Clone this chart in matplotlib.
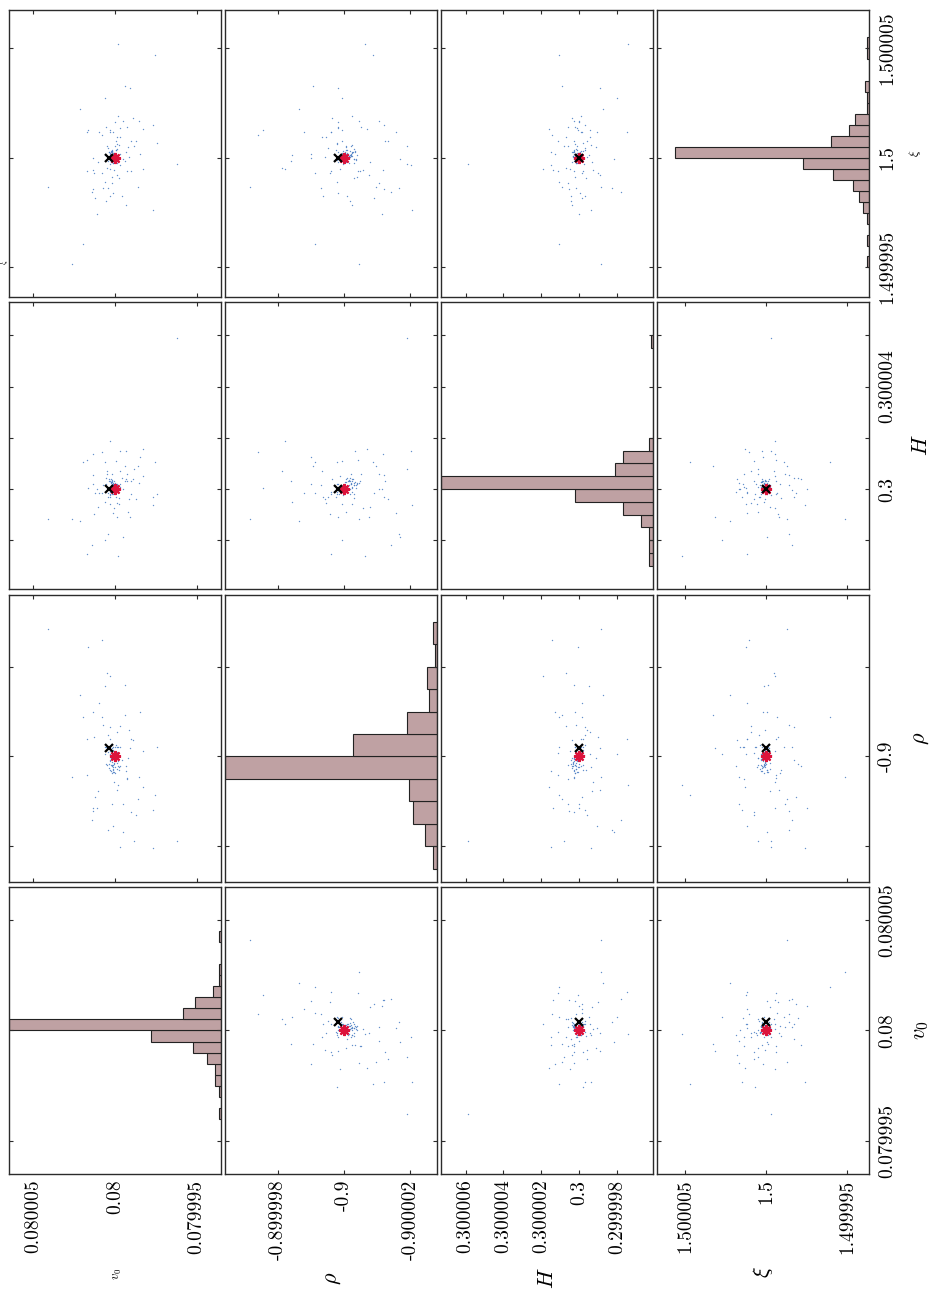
import numpy as np
import matplotlib
matplotlib.use("Agg")
import matplotlib.pyplot as plt
from matplotlib.ticker import NullLocator

plt.rcParams["mathtext.fontset"] = "cm"
plt.rcParams["axes.unicode_minus"] = False

# ---------------------------------------------------------------- data
param_labels = [r"$v_0$", r"$\rho$", r"$H$", r"$\xi$"]
true_values = [0.08, -0.9, 0.3, 1.5]
estimates = [0.08000037, -0.89999981, 0.3, 1.5]
UNIT = 1e-7  # deviations below are given in units of 1e-7

# posterior samples: deviation from the true value (x 1e-7)
v0_dev = [-2.0, -4.7, -7.1, -11.2, -14.8, -23.4, -16.9, 17.3, 16.3, 9.8,
          7.7, 3.0, 5.5, 1.0, -1.0, -3.0, -0.6, -9.6, -12.8, -25.8,
          5.1, 4.1, 0.2, -2.2, -11.8, -15.2, -6.7, -8.7, -5.1, 13.2,
          10.6, 13.6, 16.9, 12.8, 8.1, 5.1, 3.0, 0.6, -2.6, -7.1,
          -9.6, -17.3, 6.3, 1.8, 7.5, 13.6, 14.2, 12.0, 1.4, 5.5,
          -14.4, -6.7, 11.2, -23.4, -37.8, 41.1, 19.5, 26.4, 21.3, 6.1,
          -6.3, -9.1, -1.6, -24.4, -3.0, 4.0, -1.0, 2.0, -4.0, 3.0,
          -2.0, 1.0, 6.0, -6.0, 2.0, -1.0, 3.0, -3.0, 0.0, -8.0,
          1, 2, 0.5, 3, 1.5, -1, 2.5, 0.8, 3.5, 1.2,
          -0.5, 2, 4, 1, 0.3, 2.8, -2, 1.7, 3.2, 0.6,
          2.2, -1.5, 1.1, 3.8, 0.9, 2.6, -0.8, 1.4, 3, 0.4,
          2.1, -3, 1.8, 2.9, 0.7, 3.6, 1.3, -1.2, 2.4, 0.2]
rho_dev = [-2.2, -10.6, -5.1, 3.7, -4.6, -11.9, -6.9, 4.0, 24.4, 12.0,
           26.0, 0.6, 2.0, -15.6, 5.4, 6.8, 0.7, -12.3, -13.1, 2.2,
           -2.0, 4.8, -0.4, -2.3, -18.8, 10.0, -3.3, 5.8, -16.8, 9.9,
           -7.8, -11.6, -4.2, 4.4, 8.7, 18.7, 18.0, -5.6, -3.0, -4.8,
           4.0, 1.2, 2.2, -10.5, 7.0, -12.1, -14.1, -9.0, 2.0, -1.7,
           -9.5, -2.2, -11.5, -20.5, -18.8, 28.4, 8.9, -4.6, 13.7, 0.6,
           9.3, 1.9, -6.3, -8.6, -20.3, -16.5, -7.4, -3.7, -0.8, 6.5,
           2.2, 0.2, 15.7, 16.0, -1.8, 2.2, 4.0, 2.0, 2.0, -0.4,
           -2, 0.5, -3.5, -1, 1.5, -2.8, -0.4, -1.7, 2, -3,
           -0.9, -1.3, 1, -2.4, -3.8, 0.3, -1.1, -2.2, 1.2, -0.6,
           -3.2, -1.5, 0.8, -2.6, -0.2, -1.9, 2.5, -3.4, -0.7, -1.4,
           1.8, -2.1, -0.5, -3, 0.6, -1.6, -2.9, 1.1, -0.3, -2.3]
H_dev = [-1.2, 0.0, 5.9, 4.0, 2.5, -3.0, 15.8, -25.4, 0.5, -1.7,
         14.4, -5.8, 2.0, -9.3, -5.6, 7.0, 11.1, 3.0, -4.0, -2.0,
         6.0, -3.0, 1.0, -6.0, 8.0, 12.6, 14.9, -4.0, -18.6, 2.0,
         -7.0, 13.7, 11.4, -9.8, -1.7, 7.0, 18.9, -7.4, -3.5, 3.0,
         -2.0, 5.0, 10.5, 5.8, 1.7, 5.6, -21.9, -1.7, -0.5, 4.4,
         9.1, 4.0, 0.0, -6.1, 59.0, -11.7, 10.4, -11.7, -12.6, -19.8,
         8.9, -10.9, -26.0, 10.4, 14.9, -17.5, -11.0, 2.0, 4.4, -3.0,
         -1.0, 1.0, -5.0, 3.0, -2.0, 2.0, -1.0, 1.0, 0.0, -9.0,
         2, -1, 0.5, 3, -2, 1.5, 4, 0.2, -0.5, 2.5,
         1, 3.5, -1.5, 0.8, 2.2, -2.5, 1.2, 3.2, 0.4, -0.8,
         2.8, 1.6, -1.2, 3.8, 0.6, 2.4, -3, 1.4, 0.1, 3.1,
         -0.3, 1.9, 2.6, -1.8, 0.9, 3.3, 1.7, -0.6, 2.9, 0.3]
xi_dev = [18.9, 17.0, 14.0, 18.1, 17.0, 15.1, 13.1, 12.0, 12.5, 12.0,
          10.5, 12.8, 14.3, 11.7, 9.7, 9.4, 7.5, 7.8, 7.8, 7.0,
          5.2, 4.4, 5.2, 5.9, 5.2, 1.8, 2.7, 0.6, -0.6, -0.2,
          -2.1, -5.5, -6.2, -7.0, -6.7, -4.7, -5.2, -5.5, -9.3, -5.8,
          -5.8, -5.2, -11.1, -11.6, -13.9, -14.3, -15.8, -18.4, -16.1, -19.9,
          -13.1, -21.5, -25.4, -23.9, -2.7, -13.1, -39.3, -48.6, 22.2, 27.2,
          32.7, 31.8, 52.2, 46.9, -3.2, -13.8, -7.8, -8.5, -17.2, -17.4,
          -0.9, -2.4, 1.4, -1.2, 3.3, 6.4, 11.9, 13.6, 16.3, 4.9,
          1, 3, -1, 2, 0.5, 4, -2, 1.5, 2.5, -0.5,
          3.5, 0.8, -1.5, 2.2, 1.2, -3, 0.3, 2.8, -0.8, 1.8,
          3.2, -2.5, 0.6, 2.6, -1.2, 1.1, 3.8, -0.3, 2.1, 0.9,
          -1.8, 1.6, 3.4, -0.6, 2.4, 0.2, -2.2, 1.4, 2.9, 0.7]

# marginal histograms: first bin edge (x 1e-7), bin width 5e-7, counts
v0_bin_start, v0_counts = -40, [1, 0, 1, 3, 3, 7, 14, 35, 106, 19, 13, 4, 1, 1, 0, 0, 1]
rho_bin_start, rho_counts = -25, [2, 6, 12, 14, 106, 42, 15, 4, 5, 1, 2]
H_bin_start, H_counts = -30, [2, 2, 2, 6, 15, 39, 106, 19, 15, 2, 0, 0, 0, 0, 0, 0, 0, 1]
xi_bin_start, xi_counts = -50, [1, 0, 1, 0, 1, 3, 5, 8, 18, 33, 97, 19, 10, 7, 1, 1, 2, 0, 0, 1, 1]
BIN_WIDTH = 5

# tick values / labels per parameter
v0_ticks, v0_ticklabels = [0.079995, 0.08, 0.080005], ["0.079995", "0.08", "0.080005"]
rho_ticks, rho_ticklabels = [-0.900002, -0.9, -0.899998], ["-0.900002", "-0.9", "-0.899998"]
H_ticks, H_ticklabels = ([0.299998, 0.3, 0.300002, 0.300004, 0.300006],
                         ["0.299998", "0.3", "0.300002", "0.300004", "0.300006"])
xi_ticks, xi_ticklabels = [1.499995, 1.5, 1.500005], ["1.499995", "1.5", "1.500005"]

# labels printed along the right-hand column (thinned where crowded)
v0_right_labels = ["0.079995", "0.08", "0.080005"]
rho_right_labels = ["", "-0.9", ""]
H_right_labels = ["", "0.3", "", "0.300004", ""]
xi_right_labels = ["1.499995", "1.5", "1.500005"]

# axis ranges (x 1e-7 around the true value)
v0_range, rho_range, H_range, xi_range = (-65, 65), (-28, 36), (-39, 73), (-63.5, 67.5)

# ---------------------------------------------------------------- assemble
devs = [v0_dev, rho_dev, H_dev, xi_dev]
samples = [t + UNIT * np.asarray(d) for t, d in zip(true_values, devs)]
bin_starts = [v0_bin_start, rho_bin_start, H_bin_start, xi_bin_start]
counts = [v0_counts, rho_counts, H_counts, xi_counts]
ticks = [v0_ticks, rho_ticks, H_ticks, xi_ticks]
ticklabels = [v0_ticklabels, rho_ticklabels, H_ticklabels, xi_ticklabels]
right_labels = [v0_right_labels, rho_right_labels, H_right_labels, xi_right_labels]
ranges = [v0_range, rho_range, H_range, xi_range]
limits = [(t + UNIT * lo, t + UNIT * hi) for t, (lo, hi) in zip(true_values, ranges)]
count_max = max(max(c) for c in counts)

BAR_FACE = "#bfa1a3"
BAR_EDGE = "#222222"
DOT = "#4a7dc4"
STAR = "#dc143c"
SPINE = "#2b2b2b"
TICK_FONT = dict(family="cmr10", size=14)

FW, FH = 934, 1298
fig = plt.figure(figsize=(FW / 100, FH / 100), dpi=100)

col_left = [9, 225, 441, 657]
row_top = [887, 595, 302, 10]      # row index counted from the bottom
PW, PH = 212, 287


def panel_rect(c, r):
    return [col_left[c] / FW, 1 - (row_top[r] + PH) / FH, PW / FW, PH / FH]


for c in range(4):
    for r in range(4):
        ax = fig.add_axes(panel_rect(c, r))
        for sp in ax.spines.values():
            sp.set_color(SPINE)
            sp.set_linewidth(1.0)
        ax.set_ylim(*limits[r])
        ax.set_yticks(ticks[r])
        if c == r:
            edges = true_values[r] + UNIT * (bin_starts[r] + BIN_WIDTH * np.arange(len(counts[r]) + 1))
            ax.barh(edges[:-1], counts[r], height=np.diff(edges), align="edge",
                    color=BAR_FACE, edgecolor=BAR_EDGE, linewidth=0.8)
            ax.set_xlim(count_max, 0)
            ax.xaxis.set_major_locator(NullLocator())
        else:
            ax.plot(samples[c], samples[r], ".", ms=2.0, mew=0, color=DOT, alpha=0.85)
            ax.plot(true_values[c], true_values[r], marker=(8, 2, 0), ms=8,
                    mew=1.6, color=STAR, linestyle="none")
            ax.plot(estimates[c], estimates[r], marker="x", ms=5.5, mew=1.6,
                    color="black", linestyle="none")
            ax.set_xlim(limits[c][1], limits[c][0])
            ax.set_xticks(ticks[c])
        ax.tick_params(direction="in", length=3, width=0.8, color=SPINE,
                       top=True, bottom=True, left=True, right=True,
                       labelbottom=False, labelleft=False, labeltop=False, labelright=False)

        # value labels along the bottom row
        if r == 0:
            lab_ax = ax
            if c == r:
                lab_ax = ax.twiny()
                lab_ax.set_xlim(limits[c][1], limits[c][0])
                lab_ax.set_xticks(ticks[c])
                for sp in lab_ax.spines.values():
                    sp.set_visible(False)
                lab_ax.tick_params(axis="x", length=0, top=False, labeltop=False)
            lab_ax.xaxis.set_ticks_position("bottom")
            lab_ax.set_xticklabels(ticklabels[c], rotation=90, **TICK_FONT)
            lab_ax.tick_params(axis="x", labelbottom=True, pad=4)
            if lab_ax is not ax:
                lab_ax.tick_params(axis="x", length=0)

        # value labels along the right column
        if c == 3:
            ax.set_yticklabels(right_labels[r], rotation=90, va="center", **TICK_FONT)
            ax.tick_params(axis="y", labelright=True, pad=6.5)


def fig_text(x, y, s, size, **kw):
    fig.text(x / FW, 1 - y / FH, s, fontsize=size, rotation=90,
             ha="center", va="center", **kw)


# parameter names under the bottom row
fig_text(117, 1274, param_labels[0], 9)
fig_text(333, 1278, param_labels[1], 16)
fig_text(547, 1278, param_labels[2], 16)
fig_text(763, 1272, param_labels[3], 16)
# parameter names right of the last column
fig_text(921, 1030, param_labels[0], 16)
fig_text(921, 738, param_labels[1], 16)
fig_text(921, 445, param_labels[2], 16)
fig_text(915, 153, param_labels[3], 9)
fig_text(4, 262, param_labels[3], 6)

fig.savefig("out.png", dpi=100)
